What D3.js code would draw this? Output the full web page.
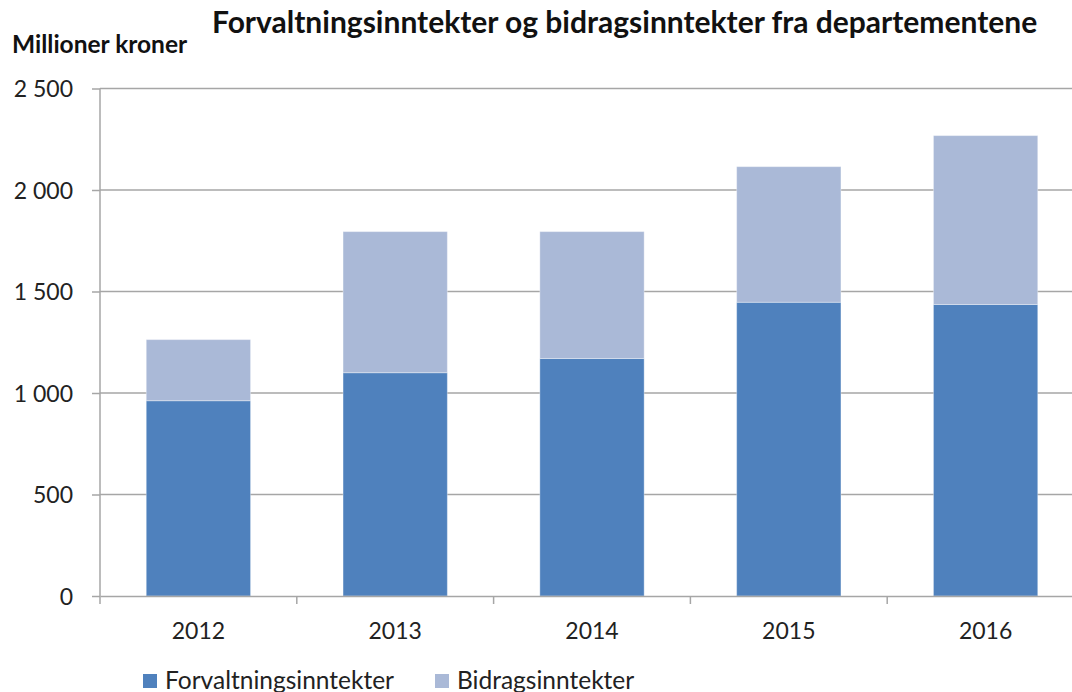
<!DOCTYPE html>
<html>
<head>
<meta charset="utf-8">
<script src="https://cdn.jsdelivr.net/npm/d3@7"></script>
<style>
  body { margin: 0; background: #fff; }
  svg { display: block; font-family: Lato, 'Open Sans', sans-serif; }
</style>
</head>
<body>
<script>
const years = ['2012', '2013', '2014', '2015', '2016'];
const forvaltning = [962, 1100, 1170, 1447, 1436];
const bidrag = [301, 695, 625, 668, 832];
const yTicks = [0, 500, 1000, 1500, 2000, 2500];
const seriesNames = ['Forvaltningsinntekter', 'Bidragsinntekter'];
const colors = ['#4f81bd', '#aab9d7'];

const width = 1072;
const height = 692;
const plot = { left: 100, right: 1084, top: 88.5, bottom: 596 };

const svg = d3.select('body').append('svg')
  .attr('width', width)
  .attr('height', height);

const x = d3.scaleBand()
  .domain(years)
  .range([plot.left, plot.right])
  .paddingInner(0.47)
  .paddingOuter(0.235);

const y = d3.scaleLinear()
  .domain([0, 2500])
  .range([plot.bottom, plot.top]);

const fmt = (d) => d3.format(',')(d).replace(',', ' ');

// gridlines
svg.append('g')
  .selectAll('line')
  .data(yTicks.filter((d) => d > 0))
  .enter()
  .append('line')
  .attr('x1', plot.left)
  .attr('x2', plot.right)
  .attr('y1', (d) => y(d))
  .attr('y2', (d) => y(d))
  .attr('stroke', '#a6a6a6')
  .attr('stroke-width', 1.5);

// stacked bars
const table = years.map((yr, i) => ({ year: yr, Forvaltningsinntekter: forvaltning[i], Bidragsinntekter: bidrag[i] }));
const stacked = d3.stack().keys(seriesNames)(table);

svg.append('g')
  .selectAll('g')
  .data(stacked)
  .enter()
  .append('g')
  .attr('fill', (d, i) => colors[i])
  .selectAll('rect')
  .data((d) => d)
  .enter()
  .append('rect')
  .attr('x', (d) => x(d.data.year))
  .attr('width', x.bandwidth())
  .attr('y', (d) => y(d[1]))
  .attr('height', (d) => y(d[0]) - y(d[1]))
  .attr('stroke', 'rgba(255,255,255,0.35)')
  .attr('stroke-width', 1);

// y axis
const yAxis = svg.append('g')
  .attr('transform', `translate(${plot.left}, 0)`)
  .call(d3.axisLeft(y).tickValues(yTicks).tickSize(8).tickPadding(19).tickFormat(fmt));
yAxis.selectAll('line').attr('stroke', '#a6a6a6').attr('stroke-width', 1.5);
yAxis.select('.domain').attr('stroke', '#a6a6a6').attr('stroke-width', 1.5).attr('d', `M0,${plot.top}V${plot.bottom + 8}`);
yAxis.selectAll('text')
  .attr('font-size', 23)
  .attr('font-family', 'Lato, sans-serif')
  .attr('fill', '#222')
  .attr('dy', '0.35em');

// x axis
const xAxis = svg.append('g')
  .attr('transform', `translate(0, ${plot.bottom})`)
  .call(d3.axisBottom(x).tickSize(0).tickPadding(27));
xAxis.select('.domain').attr('stroke', '#a6a6a6').attr('stroke-width', 1.5);
xAxis.selectAll('text')
  .attr('font-size', 23)
  .attr('font-family', 'Lato, sans-serif')
  .attr('fill', '#222');
// category separator ticks
xAxis.append('g')
  .selectAll('line')
  .data(years.slice(1))
  .enter()
  .append('line')
  .attr('x1', (d) => x(d) - x.step() * x.paddingInner() / 2)
  .attr('x2', (d) => x(d) - x.step() * x.paddingInner() / 2)
  .attr('y1', 0)
  .attr('y2', 8)
  .attr('stroke', '#a6a6a6')
  .attr('stroke-width', 1.5);

// titles
svg.append('text')
  .attr('x', 212)
  .attr('y', 33)
  .attr('font-size', 30)
  .attr('font-weight', 'bold')
  .attr('fill', '#111')
  .text('Forvaltningsinntekter og bidragsinntekter fra departementene');

svg.append('text')
  .attr('x', 12)
  .attr('y', 53)
  .attr('font-size', 24.5)
  .attr('font-weight', 'bold')
  .attr('fill', '#111')
  .text('Millioner kroner');

// legend
const legendX = [143, 435];
const legend = svg.append('g')
  .selectAll('g')
  .data(seriesNames)
  .enter()
  .append('g')
  .attr('transform', (d, i) => `translate(${legendX[i]}, 674)`);
legend.append('rect')
  .attr('width', 14)
  .attr('height', 14)
  .attr('fill', (d, i) => colors[i]);
legend.append('text')
  .attr('x', 22)
  .attr('y', 15)
  .attr('font-size', 24.5)
  .attr('fill', '#222')
  .text((d) => d);
</script>
</body>
</html>
